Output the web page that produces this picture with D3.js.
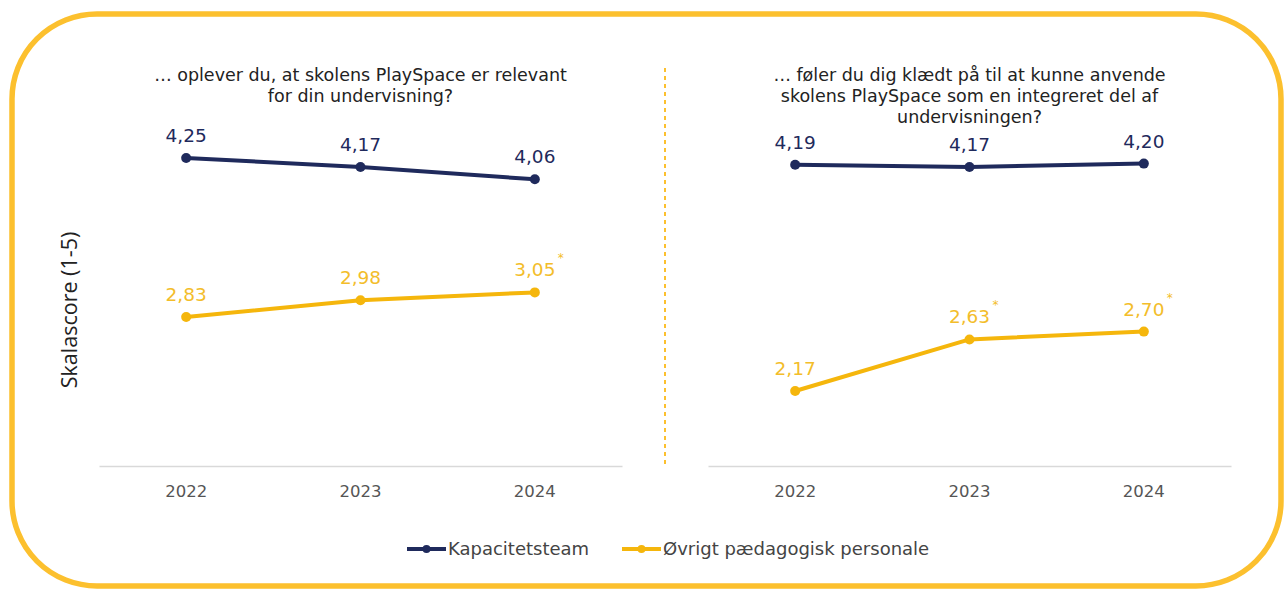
<!DOCTYPE html>
<html>
<head>
<meta charset="utf-8">
<script src="https://cdn.jsdelivr.net/npm/d3@7"></script>
<style>
  html, body { margin: 0; padding: 0; background: #fff; }
  svg { display: block; }
</style>
</head>
<body>
<svg id="chart" width="1284" height="589"></svg>
<script>
// Survey years shown on both panels
const years = ["2022", "2023", "2024"];

// Panel 1: "... oplever du, at skolens PlaySpace er relevant for din undervisning?"
const titleRelevant = ["… oplever du, at skolens PlaySpace er relevant", "for din undervisning?"];
const kapacitetRelevant = [4.25, 4.17, 4.06];
const oevrigtRelevant = [2.83, 2.98, 3.05];
const oevrigtRelevantSig = [false, false, true];

// Panel 2: "... føler du dig klædt på til at kunne anvende ..."
const titleKlaedt = ["… føler du dig klædt på til at kunne anvende", "skolens PlaySpace som en integreret del af", "undervisningen?"];
const kapacitetKlaedt = [4.19, 4.17, 4.20];
const oevrigtKlaedt = [2.17, 2.63, 2.70];
const oevrigtKlaedtSig = [false, true, true];

const seriesNames = ["Kapacitetsteam", "Øvrigt pædagogisk personale"];
const yAxisTitle = "Skalascore (1-5)";

const NAVY = "#1f2a5c";
const GOLD = "#f5b60c";
const GOLD_LABEL = "#f3bd2a";
const FRAME = "#fcc02e";
const FONT = "'DejaVu Sans', Verdana, sans-serif";

const svg = d3.select("#chart");

// Rounded frame around the whole figure
svg.append("rect")
  .attr("x", 12).attr("y", 14)
  .attr("width", 1269).attr("height", 572)
  .attr("rx", 85).attr("ry", 85)
  .attr("fill", "none")
  .attr("stroke", FRAME)
  .attr("stroke-width", 5.5);

// Shared value scale for both panels
const y = d3.scaleLinear().domain([1.5, 4.5]).range([466, 130]);

const line = d3.line().x(d => d.x).y(d => d.y);

function formatDa(v) { return d3.format(".2f")(v).replace(".", ","); }

function drawPanel(range, title, kap, oev, oevSig) {
  const x = d3.scaleBand().domain(years).range(range).padding(0);
  const cx = d => x(d) + x.bandwidth() / 2;
  const g = svg.append("g");

  // Category axis along the bottom
  const axis = d3.axisBottom(x).tickSize(0).tickSizeOuter(0).tickPadding(19);
  const ax = g.append("g").attr("transform", "translate(0,466)").call(axis);
  ax.select(".domain").attr("stroke", "#d9d9d9").attr("stroke-width", 1.5);
  ax.selectAll("text")
    .attr("font-family", FONT)
    .attr("font-size", 16.5)
    .attr("fill", "#555");

  // Panel title
  const midX = (range[0] + range[1]) / 2;
  const t = g.append("text")
    .attr("font-family", FONT)
    .attr("font-size", 17.5)
    .attr("fill", "#222")
    .attr("text-anchor", "middle");
  title.forEach((s, i) => {
    t.append("tspan").attr("x", midX).attr("y", 81 + i * 21).text(s);
  });

  const series = [
    { vals: kap, color: NAVY, labelColor: NAVY, sig: [false, false, false] },
    { vals: oev, color: GOLD, labelColor: GOLD_LABEL, sig: oevSig }
  ];

  series.forEach(s => {
    const pts = years.map((yr, i) => ({ x: cx(yr), y: y(s.vals[i]), v: s.vals[i], sig: s.sig[i] }));
    g.append("path")
      .attr("d", line(pts))
      .attr("fill", "none")
      .attr("stroke", s.color)
      .attr("stroke-width", 4)
      .attr("stroke-linejoin", "round");
    g.selectAll(null).data(pts).enter().append("circle")
      .attr("cx", d => d.x).attr("cy", d => d.y).attr("r", 5)
      .attr("fill", s.color);
    g.selectAll(null).data(pts).enter().append("text")
      .attr("x", d => d.x).attr("y", d => d.y - 16)
      .attr("text-anchor", "middle")
      .attr("font-family", FONT)
      .attr("font-size", 18.5)
      .attr("fill", s.labelColor)
      .text(d => formatDa(d.v));
    // Significance asterisk as a superscript next to the value
    g.selectAll(null).data(pts.filter(d => d.sig)).enter().append("text")
      .attr("x", d => d.x + 23).attr("y", d => d.y - 30)
      .attr("font-family", FONT)
      .attr("font-size", 12)
      .attr("fill", s.labelColor)
      .text("*");
  });
}

drawPanel([99, 622], titleRelevant, kapacitetRelevant, oevrigtRelevant, oevrigtRelevantSig);
drawPanel([708, 1231], titleKlaedt, kapacitetKlaedt, oevrigtKlaedt, oevrigtKlaedtSig);

// Dashed divider between the two panels
svg.append("line")
  .attr("x1", 665).attr("x2", 665)
  .attr("y1", 68).attr("y2", 468)
  .attr("stroke", FRAME)
  .attr("stroke-width", 2)
  .attr("stroke-dasharray", "4,4");

// Y axis title
svg.append("text")
  .attr("transform", "translate(77,310) rotate(-90)")
  .attr("text-anchor", "middle")
  .attr("font-family", "'Open Sans', 'Noto Sans', sans-serif")
  .attr("font-size", 21.5)
  .attr("fill", "#222")
  .text(yAxisTitle);

// Legend
const legendItems = [
  { name: seriesNames[0], color: NAVY, x: 407 },
  { name: seriesNames[1], color: GOLD, x: 622 }
];
const lg = svg.append("g");
legendItems.forEach(it => {
  lg.append("line")
    .attr("x1", it.x).attr("x2", it.x + 39)
    .attr("y1", 549).attr("y2", 549)
    .attr("stroke", it.color).attr("stroke-width", 4);
  lg.append("circle").attr("cx", it.x + 19.5).attr("cy", 549).attr("r", 4).attr("fill", it.color);
  lg.append("text")
    .attr("x", it.x + 41).attr("y", 549)
    .attr("dy", "0.35em")
    .attr("font-family", FONT)
    .attr("font-size", 18)
    .attr("fill", "#444")
    .text(it.name);
});
</script>
</body>
</html>
